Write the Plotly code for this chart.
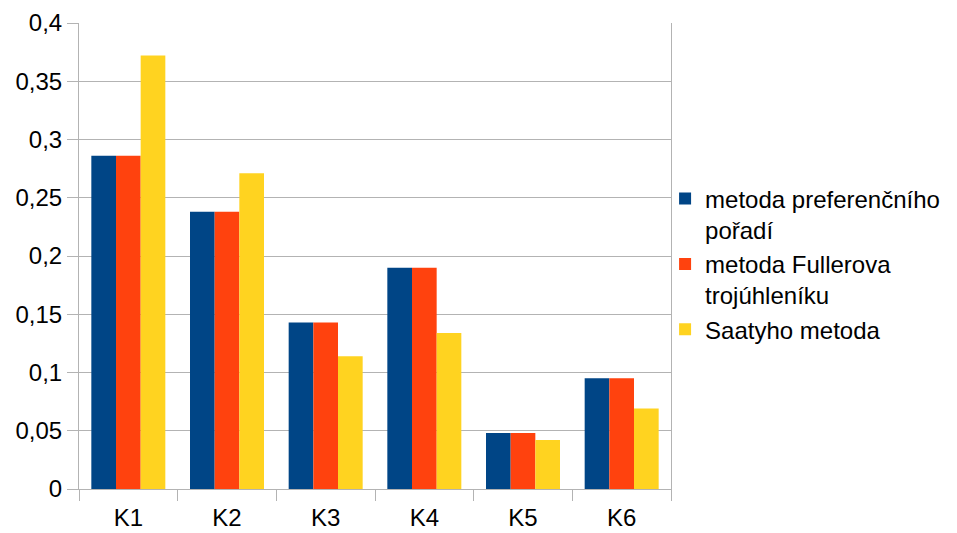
import plotly.graph_objects as go

categories = ["K1", "K2", "K3", "K4", "K5", "K6"]
preferencni = [0.286, 0.238, 0.143, 0.190, 0.048, 0.095]
fuller = [0.286, 0.238, 0.143, 0.190, 0.048, 0.095]
saaty = [0.372, 0.271, 0.114, 0.134, 0.042, 0.069]

series = [
    ("metoda preferenčního<br>pořadí", preferencni, "#004586"),
    ("metoda Fullerova<br>trojúhleníku", fuller, "#ff420e"),
    ("Saatyho metoda", saaty, "#ffd320"),
]

y_ticks = [0, 0.05, 0.1, 0.15, 0.2, 0.25, 0.3, 0.35, 0.4]
y_labels = ["0", "0,05", "0,1", "0,15", "0,2", "0,25", "0,3", "0,35", "0,4"]

FONT = "Liberation Sans"
GRID = "#b3b3b3"

fig = go.Figure()
for name, vals, color in series:
    fig.add_trace(go.Bar(x=categories, y=vals, name=name,
                         marker=dict(color=color, line=dict(width=0))))

fig.update_layout(
    width=957, height=533,
    margin=dict(l=79, r=286, t=23, b=44),
    paper_bgcolor="white", plot_bgcolor="white",
    barmode="group", bargap=0.25, bargroupgap=0,
    font=dict(family=FONT, size=24, color="black"),
    showlegend=True,
    legend=dict(
        x=0.99, xanchor="left", y=0.483, yanchor="middle",
        font=dict(family=FONT, size=24, color="black"),
        valign="top", tracegroupgap=0, itemwidth=30,
        bgcolor="rgba(0,0,0,0)",
    ),
)

fig.update_xaxes(
    type="category", tickson="boundaries", automargin=False,
    ticks="outside", ticklen=11, tickcolor=GRID, tickwidth=1,
    showgrid=False, showline=True, linecolor=GRID, linewidth=1,
    tickfont=dict(family=FONT, size=24), zeroline=False,
    ticklabelstandoff=7,
)
fig.update_yaxes(
    range=[0, 0.4], tickvals=y_ticks, ticktext=y_labels, automargin=False,
    ticks="outside", ticklen=11, tickcolor=GRID, tickwidth=1,
    showgrid=True, gridcolor=GRID, gridwidth=1,
    showline=True, linecolor=GRID, linewidth=1, mirror=True,
    zeroline=False, tickfont=dict(family=FONT, size=24),
)

fig.write_html("out.html")
